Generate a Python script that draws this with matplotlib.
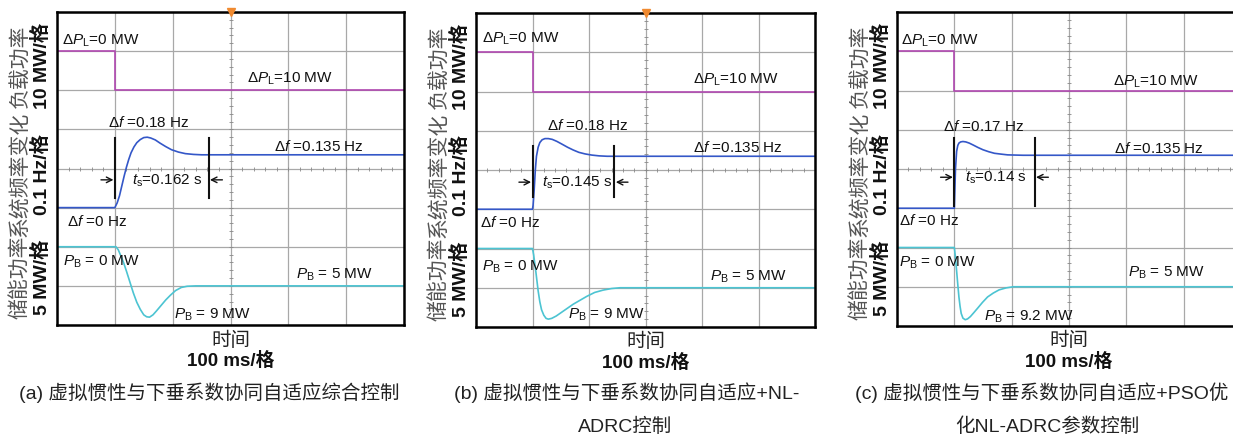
import matplotlib
matplotlib.use('Agg')
import matplotlib.pyplot as plt
import numpy as np

plt.rcParams['font.family'] = ['Liberation Sans', 'Noto Sans CJK SC']
plt.rcParams['mathtext.fontset'] = 'custom'
plt.rcParams['mathtext.rm'] = 'Liberation Sans'
plt.rcParams['mathtext.it'] = 'Liberation Sans:italic'
plt.rcParams['mathtext.bf'] = 'Liberation Sans:bold'

W, H = 1233, 435

# load power step (MW), same for all three runs
t_load = [0, 100, 100, 600]
p_load = [0, 0, 10, 10]

# (a) adaptive inertia + droop
t_df_a = [0, 100, 104, 108, 112, 116, 120, 124, 128, 133, 138, 144, 150, 156, 162,
          170, 178, 188, 198, 210, 222, 236, 250, 600]
df_a = [0, 0, 0.012, 0.03, 0.055, 0.08, 0.103, 0.123, 0.14, 0.155, 0.166, 0.174, 0.179,
        0.18, 0.178, 0.173, 0.165, 0.156, 0.148, 0.142, 0.138, 0.136, 0.135, 0.135]
t_pb_a = [0, 102, 106, 110, 115, 120, 126, 132, 138, 144, 150, 155, 160, 166, 172,
          180, 188, 196, 205, 215, 225, 240, 600]
pb_a = [0, 0, 0.4, 1.1, 2.0, 3.1, 4.5, 5.9, 7.1, 8.0, 8.7, 8.95, 9.0, 8.7, 8.2,
        7.5, 6.8, 6.2, 5.6, 5.2, 5.05, 5.0, 5.0]

# (b) + NL-ADRC
t_df_b = [0, 100, 101, 103, 105, 107, 110, 113, 117, 122, 128, 135, 143, 152, 162,
          172, 182, 193, 205, 218, 232, 600]
df_b = [0, 0, 0.01, 0.05, 0.1, 0.135, 0.158, 0.17, 0.177, 0.18, 0.18, 0.178, 0.173,
        0.166, 0.158, 0.151, 0.145, 0.141, 0.138, 0.136, 0.135, 0.135]
t_pb_b = [0, 100, 102, 104, 106, 108, 110, 113, 116, 120, 124, 128, 134, 142, 152,
          162, 172, 184, 196, 210, 225, 240, 255, 600]
pb_b = [0, 0, 0.8, 1.9, 3.0, 4.2, 5.4, 6.8, 7.8, 8.5, 8.9, 9.0, 8.9, 8.6, 8.1,
        7.6, 7.1, 6.6, 6.1, 5.6, 5.3, 5.1, 5.0, 5.0]

# (c) + PSO tuned NL-ADRC
t_df_c = [0, 100, 101, 102, 104, 106, 108, 111, 115, 120, 126, 133, 141, 150, 160,
          170, 181, 193, 206, 220, 235, 600]
df_c = [0, 0, 0.05, 0.1, 0.145, 0.16, 0.166, 0.169, 0.17, 0.169, 0.166, 0.161, 0.155,
        0.149, 0.144, 0.14, 0.138, 0.136, 0.1355, 0.135, 0.135, 0.135]
t_pb_c = [0, 100, 102, 104, 106, 108, 110, 112, 115, 119, 123, 128, 134, 141, 149,
          158, 168, 178, 190, 203, 215, 600]
pb_c = [0, 0, 1.3, 3.0, 4.7, 6.3, 7.5, 8.4, 9.0, 9.2, 9.1, 8.8, 8.3, 7.7, 7.0,
        6.3, 5.8, 5.4, 5.15, 5.0, 5.0, 5.0]

# settling time (s), peak and storage minimum per run
ts_vals = [0.162, 0.145, 0.14]
df_peak = ['0.18', '0.18', '0.17']
pb_peak = ['9', '9', '9.2']
t_step = 100

# scope channels: zero position (div) and scale per div
PL_ZERO, PL_DIV = 7, 10.0
DF_ZERO, DF_DIV = 3, 0.1
PB_ZERO, PB_DIV = 2, 5.0

C_LOAD = '#b048b0'
C_DF = '#3457c8'
C_PB = '#4cc4d2'

fig = plt.figure(figsize=(W / 100, H / 100), dpi=100)


def px_axes(l, t, r, b):
    return fig.add_axes([l / W, 1 - b / H, (r - l) / W, (b - t) / H])


def scope(ax, t_df, df, t_pb, pb, ts, txt, mark_y, arrow_y, trig=True):
    ax.set_xlim(0, 600)
    ax.set_ylim(0, 8)
    ax.set_xticks(np.arange(0, 601, 100))
    ax.set_yticks(np.arange(0, 9, 1))
    ax.grid(color='#a8a8a8', lw=0.9)
    ax.tick_params(length=0, labelbottom=False, labelleft=False)
    for s in ax.spines.values():
        s.set_linewidth(1.8)
    # graticule ticks on the centre lines
    ax.plot(np.arange(0, 601, 20), np.full(31, 4.0), ls='none', marker='|',
            ms=3, mew=0.6, color='#888888')
    ax.plot(np.full(41, 300.0), np.arange(0, 8.01, 0.2), ls='none', marker='_',
            ms=3, mew=0.6, color='#888888')
    if trig:
        ax.plot(300, 8, marker='v', ms=6, color='#f08a30', clip_on=False, zorder=6)

    ax.plot(t_load, PL_ZERO - np.array(p_load) / PL_DIV, color=C_LOAD, lw=1.2)
    ax.plot(t_df, DF_ZERO + np.array(df) / DF_DIV, color=C_DF, lw=1.2)
    ax.plot(t_pb, PB_ZERO - np.array(pb) / PB_DIV, color=C_PB, lw=1.2)

    # settling time markers
    t_end = t_step + ts * 1000
    for tx in (t_step, t_end):
        ax.plot([tx, tx], mark_y, color='#111111', lw=1.5)
    arr = dict(arrowstyle='->', lw=1.0, color='#111111', shrinkA=0, shrinkB=1)
    ax.annotate('', xy=(t_step, arrow_y), xytext=(t_step - 24, arrow_y), arrowprops=arr)
    ax.annotate('', xy=(t_end, arrow_y), xytext=(t_end + 24, arrow_y), arrowprops=arr)

    for x, y, s in txt:
        ax.text(x, y, s, fontsize=11, ha='left', va='center', color='#111111')

    # channel labels
    chans = [('负载功率', '10 MW/格', 6.65), ('系统频率变化', '0.1 Hz/格', 3.88),
             ('储能功率', '5 MW/格', 1.25)]
    for cn, unit, yc in chans:
        ax.annotate(cn, xy=(0, yc), xycoords=('axes fraction', 'data'),
                    xytext=(-37, 0), textcoords='offset pixels', rotation=90,
                    ha='center', va='center', fontsize=15, color='#555555',
                    family='Noto Sans CJK SC')
        ax.annotate(unit, xy=(0, yc), xycoords=('axes fraction', 'data'),
                    xytext=(-16, 0), textcoords='offset pixels', rotation=90,
                    ha='center', va='center', fontsize=14, fontweight='bold',
                    color='#111111')
    ax.annotate('时间', xy=(0.5, 0), xycoords='axes fraction', xytext=(0, -14),
                textcoords='offset pixels', ha='center', va='center',
                fontsize=14, color='#222222', family='Noto Sans CJK SC')
    ax.annotate('100 ms/格', xy=(0.5, 0), xycoords='axes fraction', xytext=(0, -35),
                textcoords='offset pixels', ha='center', va='center',
                fontsize=13.5, fontweight='bold', color='#111111')


def labels(i, pos):
    s = [r'$\Delta P_{\rm L}$=0 MW', r'$\Delta P_{\rm L}$=10 MW',
         r'$\Delta f$ =' + df_peak[i] + ' Hz', r'$\Delta f$ =0.135 Hz',
         r'$t_{\rm s}$=' + str(ts_vals[i]) + ' s', r'$\Delta f$ =0 Hz',
         r'$P_{\rm B}$ = 0 MW', r'$P_{\rm B}$ = 5 MW',
         r'$P_{\rm B}$ = ' + pb_peak[i] + ' MW']
    return [(x, y, t) for (x, y), t in zip(pos, s)]


pos_a = [(9, 7.29), (328, 6.32), (88, 5.19), (376, 4.58), (129, 3.71),
         (17, 2.66), (10, 1.64), (413, 1.30), (202, 0.28)]
pos_b = [(11, 7.36), (384, 6.32), (126, 5.15), (384, 4.59), (117, 3.69),
         (7, 2.68), (11, 1.55), (414, 1.30), (163, 0.33)]
pos_c = [(7, 7.28), (376, 6.24), (80, 5.12), (378, 4.56), (119, 3.79),
         (3, 2.72), (3, 1.63), (403, 1.38), (152, 0.26)]

ax_a = px_axes(57, 13, 404, 326)
scope(ax_a, t_df_a, df_a, t_pb_a, pb_a, ts_vals[0], labels(0, pos_a),
      [3.25, 4.78], 3.71)
ax_b = px_axes(476, 14, 815, 328)
scope(ax_b, t_df_b, df_b, t_pb_b, pb_b, ts_vals[1], labels(1, pos_b),
      [3.3, 4.62], 3.69)
ax_c = px_axes(897, 13, 1241, 327)
scope(ax_c, t_df_c, df_c, t_pb_c, pb_c, ts_vals[2], labels(2, pos_c),
      [3.05, 4.79], 3.79, trig=False)

cap = dict(fontsize=14, color='#222222', va='center')
fig.text(209 / W, 1 - 393 / H, '(a) 虚拟惯性与下垂系数协同自适应综合控制', ha='center', **cap)
fig.text(627 / W, 1 - 393 / H, '(b) 虚拟惯性与下垂系数协同自适应+NL-', ha='center', **cap)
fig.text(625 / W, 1 - 427 / H, 'ADRC控制', ha='center', **cap)
fig.text(855 / W, 1 - 393 / H, '(c) 虚拟惯性与下垂系数协同自适应+PSO优', ha='left', **cap)
fig.text(1047 / W, 1 - 427 / H, '化NL-ADRC参数控制', ha='center', **cap)

fig.savefig('out.png', dpi=100)
